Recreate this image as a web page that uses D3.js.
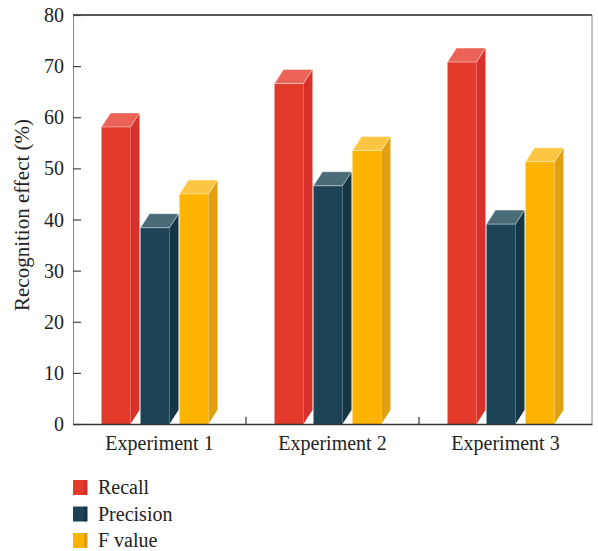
<!DOCTYPE html>
<html>
<head>
<meta charset="utf-8">
<script src="https://cdn.jsdelivr.net/npm/d3@7"></script>
</head>
<body style="margin:0">
<svg id="fig" width="598" height="551"></svg>
<script>
// Recognition results per experiment
const experiments = ["Experiment 1", "Experiment 2", "Experiment 3"];
const seriesNames = ["Recall", "Precision", "F value"];
const recall    = [58.1, 66.6, 70.8];
const precision = [38.4, 46.6, 39.1];
const fValue    = [45.0, 53.5, 51.3];
const yTicks    = [0, 10, 20, 30, 40, 50, 60, 70, 80];

const seriesValues = [recall, precision, fValue];

// face colours: front, top, side
const palette = {
  "Recall":    { front: "#e33b2b", top: "#ea6356", side: "#d8312b" },
  "Precision": { front: "#1c4456", top: "#4a6c79", side: "#153646" },
  "F value":   { front: "#fcb400", top: "#fec543", side: "#e0a012" }
};

const FONT = "Liberation Serif";
const TEXT = "#222";

const svg = d3.select("#fig");
const margin = { left: 73, right: 6, top: 15, bottom: 127 };
const W = 598, H = 551;
const x0 = margin.left, x1 = W - margin.right;
const yTop = margin.top, yBot = H - margin.bottom;

const x = d3.scaleBand().domain(experiments).range([x0, x1]).padding(0);
const y = d3.scaleLinear().domain([0, 80]).range([yBot, yTop]);

const step = 39, barW = 29, dx = 9, dy = 14;
const xs = d3.scaleBand().domain(seriesNames).range([0, step * 3]).padding(0);
const groupSpan = step * 2 + barW + dx;

// labels first, plain text elements on the svg root
function label(px, py, str, size, anchor, rotate) {
  const t = svg.append("text")
    .attr("x", px).attr("y", py)
    .attr("font-family", FONT).attr("font-size", size)
    .attr("fill", TEXT)
    .attr("text-anchor", anchor)
    .text(str);
  if (rotate) t.attr("transform", `rotate(-90,${px},${py})`);
  return t;
}

// y tick labels
yTicks.forEach(v => label(x0 - 9, y(v) + 7, String(v), 20, "end"));
// category labels
experiments.forEach(e => label(x(e) + x.bandwidth() / 2, yBot + 26, e, 20, "middle"));
// y axis title
label(29, 215, "Recognition effect (%)", 21, "middle", true);
// legend labels
seriesNames.forEach((s, i) => label(98, 494 + i * 26.5, s, 20, "start"));

// one record per bar
const data = [];
experiments.forEach((exp, i) => {
  seriesNames.forEach((s, j) => {
    data.push({ exp, series: s, value: seriesValues[j][i] });
  });
});

const bars = svg.append("g").selectAll("g.bar").data(data).join("g").attr("class", "bar");

bars.each(function(d) {
  const g = d3.select(this);
  const c = palette[d.series];
  const left = x(d.exp) + x.bandwidth() / 2 - groupSpan / 2 + xs(d.series);
  const right = left + barW;
  const top = y(d.value);
  const base = y(0);
  // side face, cut diagonally at the baseline
  g.append("path")
    .attr("d", `M${right},${base} L${right},${top} L${right + dx},${top - dy} L${right + dx},${base - dy} Z`)
    .attr("fill", c.side);
  // front face
  g.append("rect")
    .attr("x", left).attr("y", top)
    .attr("width", barW).attr("height", base - top)
    .attr("fill", c.front);
  // top face
  g.append("path")
    .attr("d", `M${left},${top} L${left + dx},${top - dy} L${right + dx},${top - dy} L${right},${top} Z`)
    .attr("fill", c.top)
    .attr("stroke", "rgba(255,255,255,0.55)")
    .attr("stroke-width", 0.8)
    .attr("stroke-linejoin", "round");
});

// frame: top and right borders
svg.append("line").attr("x1", x0).attr("x2", x1).attr("y1", yTop).attr("y2", yTop)
  .attr("stroke", "#222").attr("stroke-width", 1.5);
svg.append("line").attr("x1", x1).attr("x2", x1).attr("y1", yTop).attr("y2", yBot)
  .attr("stroke", "#888").attr("stroke-width", 1);

// y axis lines (inward ticks); labels drawn above
const gy = svg.append("g").attr("transform", `translate(${x0},0)`)
  .call(d3.axisLeft(y).tickValues(yTicks).tickSize(-8).tickFormat(""));
gy.select(".domain").attr("stroke", "#888").attr("stroke-width", 1);
gy.selectAll(".tick line").attr("stroke", "#444").attr("stroke-width", 1.2);

// x axis baseline with separator ticks between groups
const gx = svg.append("g").attr("transform", `translate(0,${yBot})`)
  .call(d3.axisBottom(x).tickSize(0).tickFormat(""));
gx.select(".domain").attr("stroke", "#333").attr("stroke-width", 1.5);
gx.selectAll("line.sep").data(experiments.slice(1)).join("line").attr("class", "sep")
  .attr("x1", d => x(d)).attr("x2", d => x(d))
  .attr("y1", 0).attr("y2", -7)
  .attr("stroke", "#333").attr("stroke-width", 1.2);

// legend swatches
const legend = svg.append("g").selectAll("g").data(seriesNames).join("g")
  .attr("transform", (d, i) => `translate(73,${480 + i * 26.5})`);
legend.append("rect").attr("width", 12).attr("height", 15).attr("fill", d => palette[d].front);
legend.append("rect").attr("x", 11).attr("width", 3.5).attr("height", 15).attr("fill", d => palette[d].side);
</script>
</body>
</html>
